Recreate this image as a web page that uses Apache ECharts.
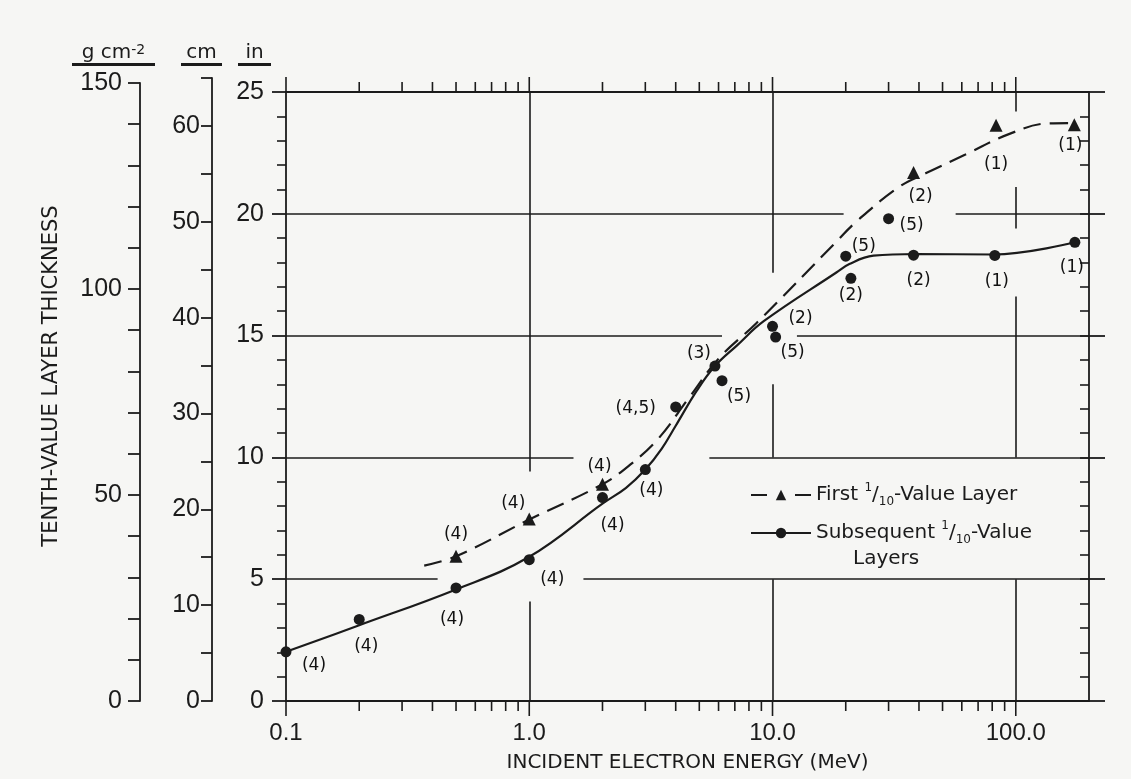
<!DOCTYPE html>
<html><head><meta charset="utf-8">
<script src="https://cdn.jsdelivr.net/npm/echarts@6.0.0/dist/echarts.min.js"></script>
<style>html,body{margin:0;padding:0;background:#f6f6f4}#c{width:1131px;height:779px}</style>
</head><body><div id="c"></div>
<script>
// ---------------- data ----------------
const firstE    = [0.5, 1.0, 2.0, 38, 83, 174];
const firstIn   = [5.94, 7.47, 8.90, 21.70, 23.64, 23.66];
const firstRefs = ['(4)', '(4)', '(4)', '(2)', '(1)', '(1)'];

const subsE    = [0.1, 0.2, 0.5, 1.0, 2.0, 3.0, 4.0, 5.8, 6.2, 10, 10.3, 20, 21, 30, 38, 82, 175];
const subsIn   = [2.02, 3.35, 4.64, 5.80, 8.35, 9.50, 12.07, 13.75, 13.15, 15.38, 14.94, 18.26, 17.35, 19.80, 18.30, 18.29, 18.83];
const subsRefs = ['(4)', '(4)', '(4)', '(4)', '(4)', '(4)', '(4,5)', '(3)', '(5)', '(2)', '(5)', '(5)', '(2)', '(5)', '(2)', '(1)', '(1)'];

const firstCurveE  = [0.37, 0.5, 1, 2, 2.6, 3.38, 4.5, 6, 8.6, 18.2, 22, 33.1, 42.6, 62.1, 93.1, 135.8, 170];
const firstCurveIn = [5.56, 5.94, 7.45, 8.9, 9.7, 10.75, 12.4, 14.05, 15.52, 18.83, 19.66, 21.1, 21.66, 22.43, 23.26, 23.71, 23.72];

const subsCurveE  = [0.1, 0.2, 0.5, 1, 2, 2.5, 3, 3.5, 4, 4.9, 5.8, 7.15, 9.2, 18.3, 20.7, 26, 39, 81, 175];
const subsCurveIn = [2.02, 3.11, 4.58, 5.92, 8.1, 8.75, 9.5, 10.35, 11.3, 12.76, 13.75, 14.6, 15.59, 17.59, 17.94, 18.28, 18.35, 18.33, 18.83];

const xTickValues = [0.1, 1, 10, 100];
const xTickLabels = ['0.1', '1.0', '10.0', '100.0'];
const xMinorTicks = [0.2,0.3,0.4,0.5,0.6,0.7,0.8,0.9, 2,3,4,5,6,7,8,9, 20,30,40,50,60,70,80,90];

const firstName = 'First 1/10-Value Layer';
const subsName  = 'Subsequent 1/10-Value Layers';

// ---------------- styling (not data) ----------------
const INK = '#1b1b1b';
const NUM_FONT = 'Liberation Sans';
const TXT_FONT = 'DejaVu Sans';
const firstLabelOffsets = [[0,-22],[-16,-15],[-3,-18],[7,24],[0,39],[-4,21]];
const subsLabelOffsets  = [[28,14],[7,27],[-4,32],[23,20],[10,28],[6,21],[-40,2],[-16,-12],[17,16],[28,-8],[17,16],[18,-10],[0,17],[23,7],[5,25],[2,26],[-3,25]];
// broken grid rules (drafted with gaps where curves / labels / legend sit)
const gridRules = [
  [[0.1,5],[0.42,5]], [[1.67,5],[200,5]],
  [[0.1,10],[1.52,10]], [[5.5,10],[200,10]],
  [[0.1,15],[6.2,15]], [[12.6,15],[200,15]],
  [[0.1,20],[19.6,20]], [[56.6,20],[200,20]],
  [[1,0],[1,4.08]], [[1,9.42],[1,25]],
  [[10,0],[10,5]], [[10,10],[10,13.0]], [[10,17.58],[10,25]],
  [[100,0],[100,5]], [[100,10],[100,16.6]], [[100,19.4],[100,21.1]], [[100,24.2],[100,25]]
];

const lineSt = {color: INK, width: 1.8};
const zip = (a, b) => a.map((v, i) => [v, b[i]]);

function xLabel(v) {
  for (let i = 0; i < xTickValues.length; i++) {
    if (Math.abs(Math.log10(v) - Math.log10(xTickValues[i])) < 1e-6) return xTickLabels[i];
  }
  return '';
}

const headerRich = {
  t: {fontFamily: TXT_FONT, fontSize: 20, color: INK},
  s: {fontFamily: TXT_FONT, fontSize: 14, color: INK, verticalAlign: 'top'}
};

// tick items: [energy, side(0 bottom / 1 top), major(1)/minor(0)]
const tickItems = [];
xTickValues.forEach(v => { tickItems.push([v, 0, 1]); tickItems.push([v, 1, 1]); });
xMinorTicks.forEach(v => { tickItems.push([v, 0, 0]); tickItems.push([v, 1, 0]); });

const chart = echarts.init(document.getElementById('c'));
const option = {
  backgroundColor: '#f6f6f4',
  animation: false,
  textStyle: {fontFamily: TXT_FONT, color: INK},
  grid: [
    {left: 286, right: 42, top: 92, bottom: 78},
    {left: 212, width: 1, top: 78, bottom: 78},
    {left: 140, width: 1, top: 83, bottom: 78}
  ],
  xAxis: [
    {type: 'log', logBase: 10, gridIndex: 0, min: 0.1, max: 200, position: 'bottom',
     axisLine: {onZero: false, lineStyle: lineSt}, axisTick: {show: false}, minorTick: {show: false}, splitLine: {show: false},
     axisLabel: {formatter: xLabel, margin: 20, fontFamily: NUM_FONT, fontSize: 24, color: INK, showMinLabel: true, showMaxLabel: true},
     name: 'INCIDENT ELECTRON ENERGY (MeV)', nameLocation: 'middle', nameGap: 52,
     nameTextStyle: {fontFamily: TXT_FONT, fontSize: 20, color: INK}},
    {type: 'log', logBase: 10, gridIndex: 0, min: 0.1, max: 200, position: 'top',
     axisLine: {onZero: false, lineStyle: lineSt}, axisTick: {show: false}, axisLabel: {show: false}, splitLine: {show: false}},
    {type: 'value', gridIndex: 1, show: false},
    {type: 'value', gridIndex: 2, show: false}
  ],
  yAxis: [
    {type: 'value', gridIndex: 0, min: 0, max: 25, interval: 5, position: 'left',
     axisLine: {show: true, onZero: false, lineStyle: lineSt},
     axisTick: {show: true, length: 14, lineStyle: lineSt},
     minorTick: {show: true, splitNumber: 5, length: 9, lineStyle: {color: INK, width: 1.6}},
     splitLine: {show: false},
     axisLabel: {margin: 22, fontFamily: NUM_FONT, fontSize: 25, color: INK},
     name: '{t|in}\n{u|      }', nameLocation: 'end', nameGap: 26,
     nameTextStyle: {align: 'center', padding: [0, 63, 0, 0], rich: Object.assign({}, headerRich, {u: {fontSize: 1, width: 33, height: 3, backgroundColor: INK}})}},
    {type: 'value', gridIndex: 0, min: 0, max: 25, interval: 5, position: 'right',
     axisLine: {show: true, onZero: false, lineStyle: lineSt}, axisTick: {show: true, inside: false, length: 16, lineStyle: lineSt},
     axisLabel: {show: false}, splitLine: {show: false}},
    {type: 'value', gridIndex: 0, min: 0, max: 25, interval: 1, position: 'right',
     axisLine: {show: false, onZero: false}, axisTick: {show: true, inside: true, length: 9, lineStyle: {color: INK, width: 1.6}},
     axisLabel: {show: false}, splitLine: {show: false}},
    {type: 'value', gridIndex: 1, min: 0, max: 65, interval: 5, position: 'left',
     axisLine: {show: true, onZero: false, lineStyle: lineSt}, axisTick: {show: true, length: 11, lineStyle: lineSt},
     splitLine: {show: false},
     axisLabel: {formatter: v => (v % 10 === 0 ? String(v) : ''), margin: 12, fontFamily: NUM_FONT, fontSize: 25, color: INK},
     name: '{t|cm}\n{u|      }', nameLocation: 'end', nameGap: 12,
     nameTextStyle: {align: 'center', padding: [0, 21, 0, 0], rich: Object.assign({}, headerRich, {u: {fontSize: 1, width: 41, height: 3, backgroundColor: INK}})}},
    {type: 'value', gridIndex: 2, min: 0, max: 150, interval: 10, position: 'left',
     axisLine: {show: true, onZero: false, lineStyle: lineSt}, axisTick: {show: true, length: 12, lineStyle: lineSt},
     splitLine: {show: false},
     axisLabel: {formatter: v => (v % 50 === 0 ? String(v) : ''), margin: 18, fontFamily: NUM_FONT, fontSize: 25, color: INK},
     name: '{t|g cm}{s|-2}\n{u|      }', nameLocation: 'end', nameGap: 17,
     nameTextStyle: {align: 'center', padding: [0, 53, 0, 0], rich: Object.assign({}, headerRich, {u: {fontSize: 1, width: 83, height: 3, backgroundColor: INK}})}},
    {type: 'value', gridIndex: 2, min: 0, max: 150, position: 'left',
     axisLine: {show: false}, axisTick: {show: false}, axisLabel: {show: false}, splitLine: {show: false},
     name: 'TENTH-VALUE LAYER THICKNESS', nameLocation: 'middle', nameRotate: 90, nameGap: 78,
     nameTextStyle: {fontFamily: TXT_FONT, fontSize: 21, color: INK, padding: [0, 0, 0, 32]}}
  ],
  legend: {
    orient: 'vertical', left: 745, top: 477, itemWidth: 60, itemHeight: 13, itemGap: -14,
    selectedMode: false,
    data: [
      {name: firstName, lineStyle: {type: [16, 28], width: 2}},
      {name: subsName, textStyle: {padding: [26, 0, 0, 0]}}
    ],
    formatter: n => n === firstName
      ? 'First {sup|1}{sl|/}{sub|10}-Value Layer'
      : 'Subsequent {sup|1}{sl|/}{sub|10}-Value\n{ind|Layers}',
    textStyle: {fontFamily: TXT_FONT, fontSize: 20, color: INK, lineHeight: 26,
      rich: {
        sup: {fontFamily: TXT_FONT, fontSize: 12, color: INK, verticalAlign: 'top'},
        sub: {fontFamily: TXT_FONT, fontSize: 12, color: INK, verticalAlign: 'bottom'},
        sl:  {fontFamily: TXT_FONT, fontSize: 20, color: INK},
        ind: {fontFamily: TXT_FONT, fontSize: 20, color: INK, padding: [0, 0, 0, 37], lineHeight: 26}
      }}
  },
  series: [
    {name: firstName, type: 'line', xAxisIndex: 0, yAxisIndex: 0, data: zip(firstCurveE, firstCurveIn),
     smooth: 0.4, showSymbol: false, symbol: 'triangle', symbolSize: 13, clip: false, silent: true,
     lineStyle: {color: INK, width: 2.2, type: [18, 9]}, itemStyle: {color: INK}, z: 3},
    {name: subsName, type: 'line', xAxisIndex: 0, yAxisIndex: 0, data: zip(subsCurveE, subsCurveIn),
     smooth: 0.4, showSymbol: false, symbol: 'circle', symbolSize: 11, clip: false, silent: true,
     lineStyle: {color: INK, width: 2.2}, itemStyle: {color: INK}, z: 3,
     markLine: {silent: true, symbol: ['none', 'none'], label: {show: false}, animation: false,
       lineStyle: {color: INK, width: 1.6, type: 'solid'}, emphasis: {disabled: true},
       data: gridRules.map(s => [{coord: s[0]}, {coord: s[1]}])}},
    {name: 'first points', type: 'scatter', xAxisIndex: 0, yAxisIndex: 0, symbol: 'triangle', symbolSize: 13,
     clip: false, silent: true, itemStyle: {color: INK, opacity: 1}, z: 4,
     data: firstE.map((e, i) => ({value: [e, firstIn[i]], label: {offset: firstLabelOffsets[i]}})),
     label: {show: true, position: 'inside', formatter: p => firstRefs[p.dataIndex],
       fontFamily: TXT_FONT, fontSize: 17, color: '#111'}},
    {name: 'subsequent points', type: 'scatter', xAxisIndex: 0, yAxisIndex: 0, symbol: 'circle', symbolSize: 11,
     clip: false, silent: true, itemStyle: {color: INK, opacity: 1}, z: 4,
     data: subsE.map((e, i) => ({value: [e, subsIn[i]], label: {offset: subsLabelOffsets[i]}})),
     label: {show: true, position: 'inside', formatter: p => subsRefs[p.dataIndex],
       fontFamily: TXT_FONT, fontSize: 17, color: '#111'}},
    {name: 'energy ticks', type: 'custom', xAxisIndex: 0, yAxisIndex: 0, silent: true, clip: false, z: 10,
     data: tickItems,
     renderItem: (params, api) => {
       const v = api.value(0), top = api.value(1) === 1, L = api.value(2) === 1 ? 15 : 10;
       const p = api.coord([v, top ? 25 : 0]);
       return {type: 'line', shape: {x1: p[0], y1: p[1], x2: p[0], y2: top ? p[1] - L : p[1] + L},
               style: {stroke: INK, lineWidth: 1.6}};
     }}
  ]
};
chart.setOption(option);
</script></body></html>
